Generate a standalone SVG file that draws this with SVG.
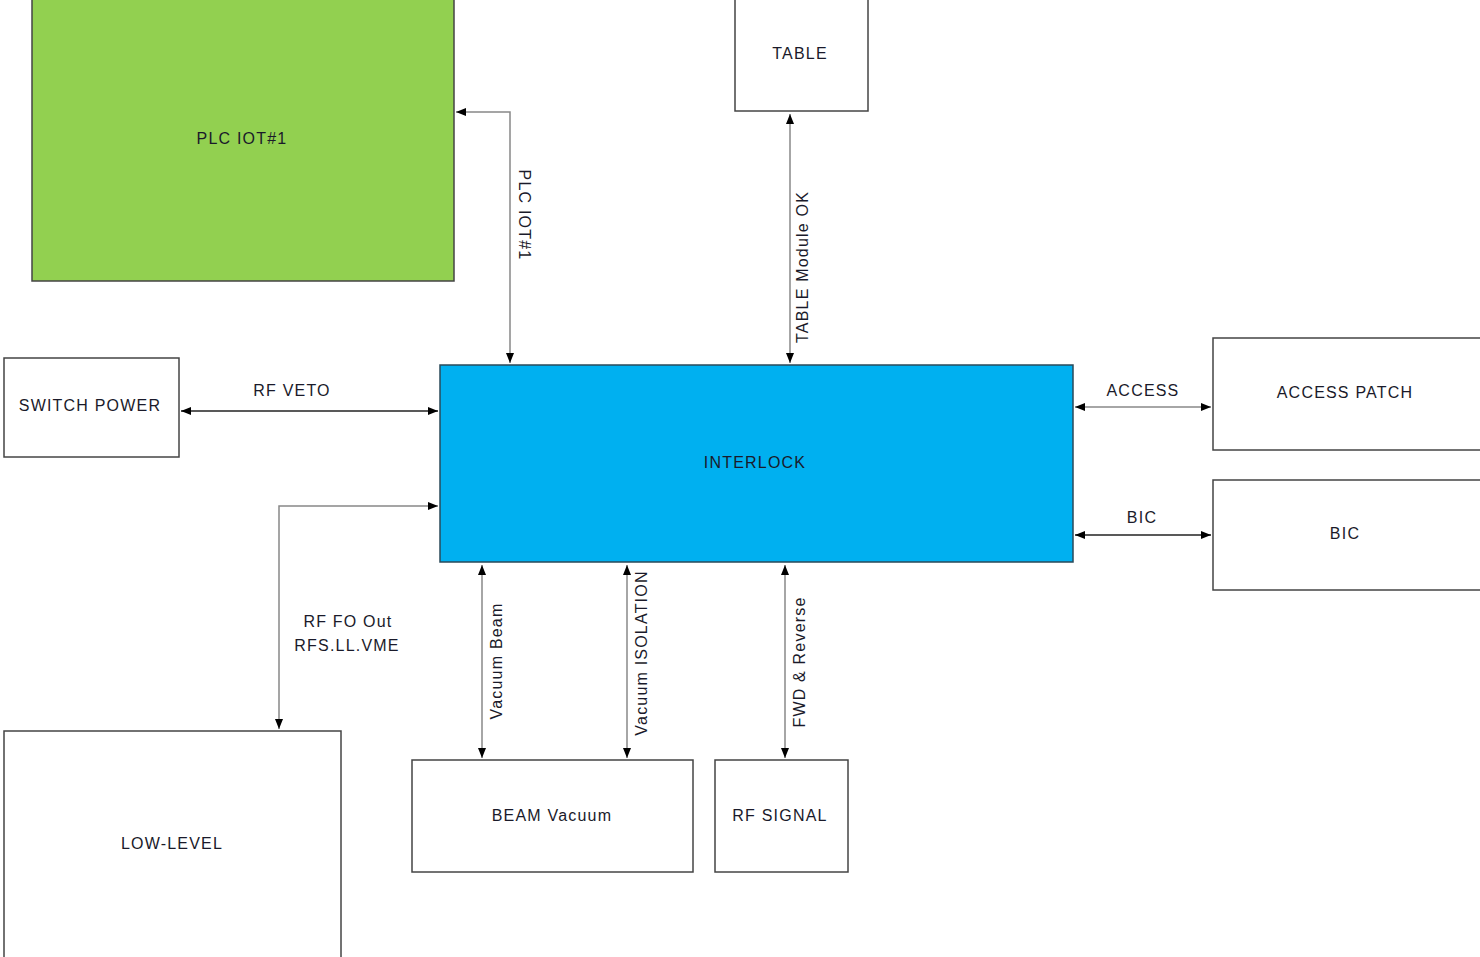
<svg xmlns="http://www.w3.org/2000/svg" width="1480" height="957" viewBox="0 0 1480 957">
<defs>
<marker id="arr" viewBox="0 0 10 8" refX="10" refY="4" markerWidth="10" markerHeight="8" markerUnits="userSpaceOnUse" orient="auto-start-reverse">
<path d="M0,0 L10,4 L0,8 z" fill="#000"/>
</marker>
<style>
.box{fill:#fff;stroke:#444;stroke-width:1.5}
.t{font-family:"Liberation Sans",Arial,sans-serif;font-size:16px;fill:#1a1a2a;text-anchor:middle;letter-spacing:1.2px}
.c{fill:none;stroke:#888;stroke-width:1.5;marker-start:url(#arr);marker-end:url(#arr)}
.cd{stroke:#222}
</style>
</defs>
<rect width="1480" height="957" fill="#fff"/>
<g id="connectors">
<path class="c" d="M510,363 V112 H456"/>
<path class="c" d="M790,363 V114"/>
<path class="c cd" d="M181,411 H438"/>
<path class="c" d="M1075,407 H1211"/>
<path class="c cd" d="M1075,535 H1211"/>
<path class="c" d="M438,506 H279 V729"/>
<path class="c" d="M482,565 V758"/>
<path class="c" d="M627,565 V758"/>
<path class="c" d="M785,565 V758"/>
<text class="t" transform="translate(525,215) rotate(90)" dy="6">PLC IOT#1</text>
<text class="t" transform="translate(802,267) rotate(-90)" dy="6">TABLE Module OK</text>
<text class="t" x="292" y="396">RF VETO</text>
<text class="t" x="1143" y="396">ACCESS</text>
<text class="t" x="1142" y="523">BIC</text>
<text class="t" x="348" y="627">RF FO Out</text>
<text class="t" x="347" y="651">RFS.LL.VME</text>
<text class="t" transform="translate(496,661) rotate(-90)" dy="6">Vacuum Beam</text>
<text class="t" transform="translate(641,653) rotate(-90)" dy="6">Vacuum ISOLATION</text>
<text class="t" transform="translate(799,662) rotate(-90)" dy="6">FWD &amp; Reverse</text>
</g>
<g id="plc">
<rect x="32" y="-1" width="422" height="282" fill="#92D050" stroke="#444" stroke-width="1.5"/>
<text class="t" x="242" y="144">PLC IOT#1</text>
</g>
<g id="table">
<rect class="box" x="735" y="-1" width="133" height="112"/>
<text class="t" x="800" y="59">TABLE</text>
</g>
<g id="switch-power">
<rect class="box" x="4" y="358" width="175" height="99"/>
<text class="t" x="90" y="411">SWITCH POWER</text>
</g>
<g id="interlock">
<rect x="440" y="365" width="633" height="197" fill="#00B0F0" stroke="#2a4a5a" stroke-width="1.5"/>
<text class="t" x="755" y="468">INTERLOCK</text>
</g>
<g id="access-patch">
<rect class="box" x="1213" y="338" width="270" height="112"/>
<text class="t" x="1345" y="398">ACCESS PATCH</text>
</g>
<g id="bic">
<rect class="box" x="1213" y="480" width="270" height="110"/>
<text class="t" x="1345" y="539">BIC</text>
</g>
<g id="low-level">
<rect class="box" x="4" y="731" width="337" height="240"/>
<text class="t" x="172" y="849">LOW-LEVEL</text>
</g>
<g id="beam-vacuum">
<rect class="box" x="412" y="760" width="281" height="112"/>
<text class="t" x="552" y="821">BEAM Vacuum</text>
</g>
<g id="rf-signal">
<rect class="box" x="715" y="760" width="133" height="112"/>
<text class="t" x="780" y="821">RF SIGNAL</text>
</g>
</svg>
